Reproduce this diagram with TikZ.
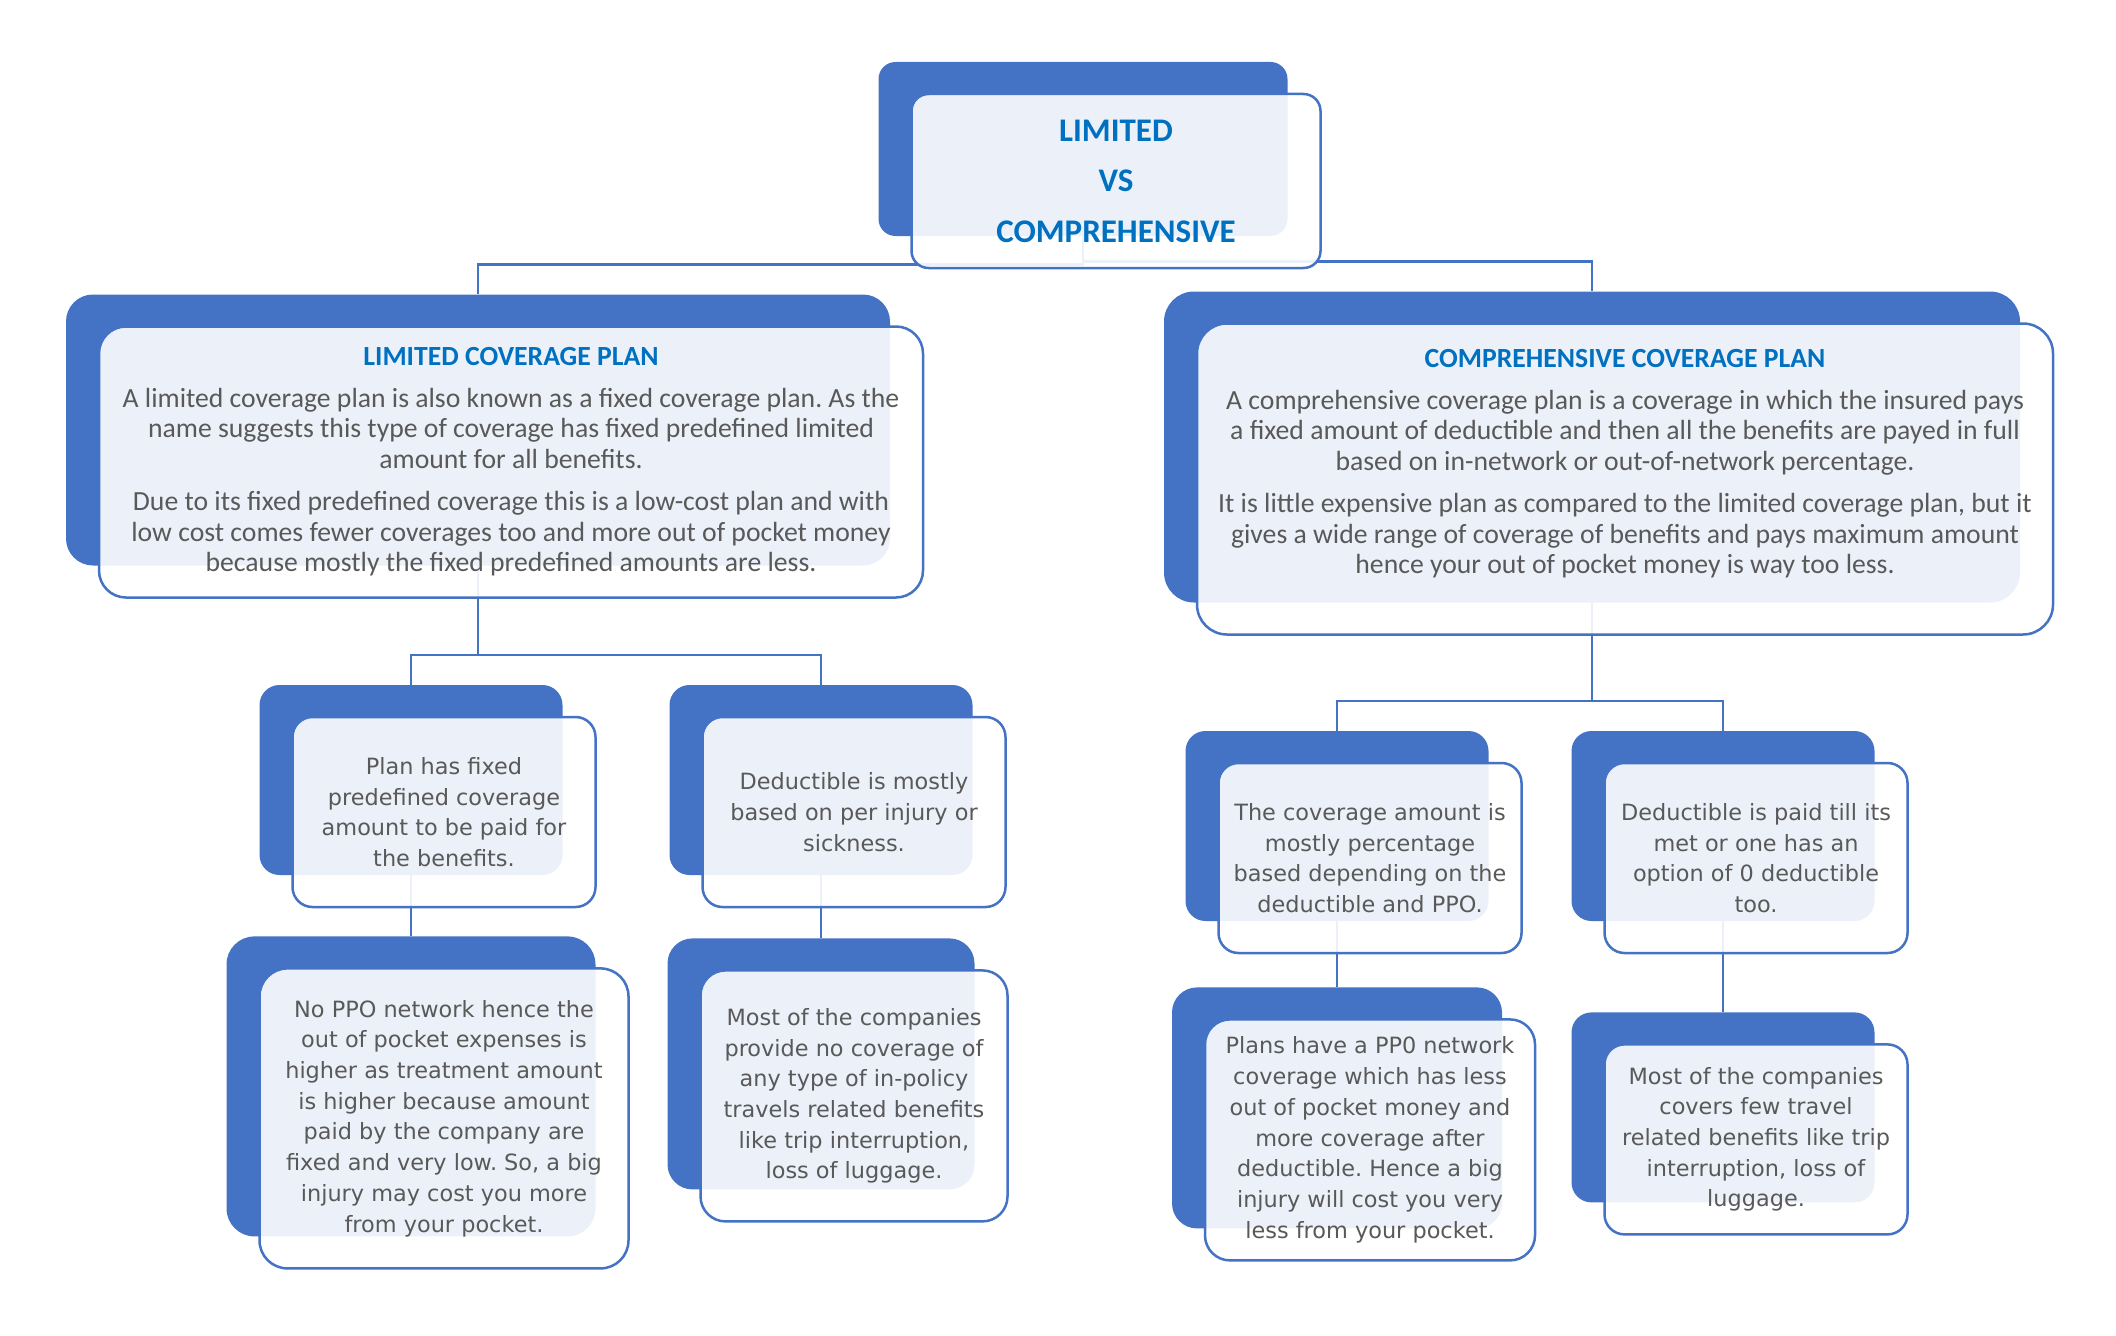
\documentclass[tikz,border=0pt]{standalone}
\usepackage{fontspec}
\setmainfont{Carlito}
\newfontfamily\boxfont{DejaVu Sans}
\usetikzlibrary{positioning,backgrounds}
\definecolor{cvBlue}{RGB}{68,114,196}
\definecolor{cvTitle}{RGB}{0,112,192}
\definecolor{cvGray}{RGB}{89,89,89}
\tikzset{
    cardsize/.style 2 args={minimum width=#1pt, minimum height=#2pt},
    backcard/.style={rectangle, rounded corners=20pt, fill=cvBlue, inner sep=0pt},
    frontcard/.style={rectangle, rounded corners=20pt, draw=cvBlue, line width=2.5pt,
                      fill=white, fill opacity=0.9, text opacity=1, text=cvGray,
                      align=center, inner sep=0pt},
    headtext/.style={font=\bfseries\fontsize{33pt}{50.5pt}\selectfont, text=cvTitle},
    bigtext/.style={font=\fontsize{27.7pt}{30.5pt}\selectfont},
    smalltext/.style={font=\boxfont\fontsize{22.4pt}{30.7pt}\selectfont},
    link/.style={draw=cvBlue, line width=2.5pt}
}
\newcommand{\cardhead}[1]{{\bfseries\color{cvTitle}#1}}
\frenchspacing

\begin{document}
\begin{tikzpicture}[x=1pt, y=-1pt]
  \useasboundingbox (0,0) rectangle (2116,1335);

  % back cards
  \node[backcard, cardsize={409}{174}, rounded corners=17pt] (titleB) at (1083,149) {};
  \node[backcard, cardsize={824}{271}, rounded corners=27pt] (lcpB) at (478,430) {};
  \node[backcard, cardsize={856}{311}, rounded corners=30pt] (ccpB) at (1592,447) {};
  \node[backcard, cardsize={303}{190}] (l1B) at (411,780) {};
  \node[backcard, cardsize={303}{190}] (l2B) at (821,780) {};
  \node[backcard, cardsize={369}{300}, rounded corners=28pt] (l3B) [below=61pt of l1B] {};
  \node[backcard, cardsize={307}{251}, rounded corners=25pt] (l4B) [below=63pt of l2B] {};
  \node[backcard, cardsize={303}{190}] (r1B) at (1337,826) {};
  \node[backcard, cardsize={303}{190}] (r2B) at (1723,826) {};
  \node[backcard, cardsize={330}{241}, rounded corners=25pt] (r3B) [below=66pt of r1B] {};
  \node[backcard, cardsize={303}{190}] (r4B) [below=91pt of r2B] {};

  % front cards
  \node[frontcard, headtext, cardsize={409}{174}, rounded corners=17pt] (title)
    at ([shift={(33,32)}]titleB.center) {LIMITED\\VS\\COMPREHENSIVE};
  \node[frontcard, bigtext, cardsize={824}{271}, rounded corners=27pt] (lcp)
    at ([shift={(33,32)}]lcpB.center)
    {\cardhead{LIMITED COVERAGE PLAN}\\[11pt]
     A limited coverage plan is also known as a fixed coverage plan. As the\\
     name suggests this type of coverage has fixed predefined limited\\
     amount for all benefits.\\[12pt]
     Due to its fixed predefined coverage this is a low-cost plan and with\\
     low cost comes fewer coverages too and more out of pocket money\\
     because mostly the fixed predefined amounts are less.};
  \node[frontcard, cardsize={856}{311}, rounded corners=30pt] (ccp)
    at ([shift={(33,32)}]ccpB.center) {};
  \node[bigtext, text=cvGray, align=center, inner sep=0pt] (ccpText)
    at ([yshift=15pt]ccp.center)
    {\cardhead{COMPREHENSIVE COVERAGE PLAN}\\[11pt]
     A comprehensive coverage plan is a coverage in which the insured pays\\
     a fixed amount of deductible and then all the benefits are payed in full\\
     based on in-network or out-of-network percentage.\\[12pt]
     It is little expensive plan as compared to the limited coverage plan, but it\\
     gives a wide range of coverage of benefits and pays maximum amount\\
     hence your out of pocket money is way too less.};

  \node[frontcard, smalltext, cardsize={303}{190}] (l1) at ([shift={(33,32)}]l1B.center)
    {Plan has fixed\\predefined coverage\\amount to be paid for\\the benefits.};
  \node[frontcard, smalltext, cardsize={303}{190}] (l2) at ([shift={(33,32)}]l2B.center)
    {Deductible is mostly\\based on per injury or\\sickness.};
  \node[frontcard, smalltext, cardsize={369}{300}, rounded corners=28pt] (l3)
    at ([shift={(33,32)}]l3B.center)
    {No PPO network hence the\\out of pocket expenses is\\higher as treatment amount\\
     is higher because amount\\paid by the company are\\fixed and very low. So, a big\\
     injury may cost you more\\from your pocket.};
  \node[frontcard, smalltext, cardsize={307}{251}, rounded corners=25pt] (l4)
    at ([shift={(33,32)}]l4B.center)
    {Most of the companies\\provide no coverage of\\any type of in-policy\\
     travels related benefits\\like trip interruption,\\loss of luggage.};
  \node[frontcard, smalltext, cardsize={303}{190}] (r1) at ([shift={(33,32)}]r1B.center)
    {The coverage amount is\\mostly percentage\\based depending on the\\deductible and PPO.};
  \node[frontcard, smalltext, cardsize={303}{190}] (r2) at ([shift={(33,32)}]r2B.center)
    {Deductible is paid till its\\met or one has an\\option of 0 deductible\\too.};
  \node[frontcard, smalltext, cardsize={330}{241}, rounded corners=25pt] (r3)
    at ([shift={(33,32)}]r3B.center)
    {Plans have a PP0 network\\coverage which has less\\out of pocket money and\\
     more coverage after\\deductible. Hence a big\\injury will cost you very\\
     less from your pocket.};
  \node[frontcard, smalltext, cardsize={303}{190}] (r4) at ([shift={(33,32)}]r4B.center)
    {Most of the companies\\covers few travel\\related benefits like trip\\
     interruption, loss of\\luggage.};

  % connectors behind the cards
  \begin{scope}[on background layer]
    \fill[white] (0,0) rectangle (2116,1335);
    \draw[link] (titleB.south) |- ([yshift=30pt]lcpB.north) -- (lcpB.north);
    \draw[link] (titleB.south) |- ([yshift=30pt]ccpB.north) -- (ccpB.north);
    \draw[link] (lcpB.south) |- ([yshift=30pt]l1B.north) -- (l1B.north);
    \draw[link] (lcpB.south) |- ([yshift=30pt]l2B.north) -- (l2B.north);
    \draw[link] (ccpB.south) |- ([yshift=30pt]r1B.north) -- (r1B.north);
    \draw[link] (ccpB.south) |- ([yshift=30pt]r2B.north) -- (r2B.north);
    \draw[link] (l1B) -- (l3B);
    \draw[link] (l2B) -- (l4B);
    \draw[link] (r1B) -- (r3B);
    \draw[link] (r2B) -- (r4B);
  \end{scope}
\end{tikzpicture}
\end{document}
